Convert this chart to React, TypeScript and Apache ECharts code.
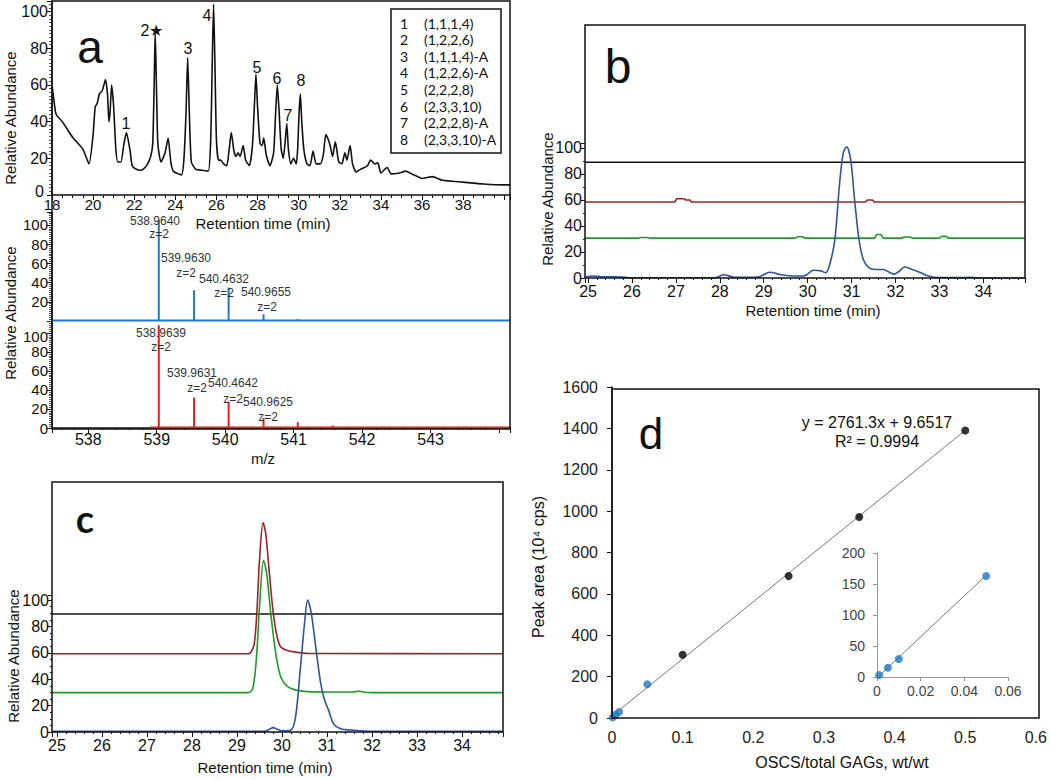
import React, { useEffect, useRef } from "react";
import * as echarts from "echarts";

// ---------- Panel a: chromatogram ----------
const chromTime = [18.0,18.1,18.2,18.5,19.0,19.5,19.8,20.0,20.1,20.2,20.3,20.45,20.6,20.7,20.77,20.83,20.9,21.0,21.1,21.2,21.35,21.5,21.62,21.8,21.9,22.1,22.35,22.6,22.8,22.9,22.97,23.02,23.08,23.15,23.3,23.5,23.65,23.78,23.9,24.3,24.42,24.52,24.6,24.68,24.78,25.0,25.3,25.6,25.72,25.8,25.86,25.92,26.0,26.1,26.2,26.35,26.5,26.62,26.72,26.85,26.95,27.05,27.15,27.3,27.42,27.6,27.75,27.85,27.92,28.0,28.12,28.22,28.3,28.42,28.6,28.78,28.88,28.96,29.05,29.15,29.25,29.35,29.42,29.5,29.62,29.75,29.88,29.95,30.02,30.08,30.15,30.25,30.4,30.55,30.7,30.85,31.05,31.2,31.32,31.45,31.55,31.65,31.78,31.85,31.95,32.1,32.25,32.35,32.5,32.62,32.8,33.0,33.2,33.35,33.5,33.7,33.85,34.0,34.3,34.5,34.9,35.2,35.5,35.8,36.0,36.5,37.0,38.0,39.0,40.0,40.3];
const chromAbund = [60,51,44,40,31.5,25,17,33,48,50,55,57,63,55,40,46,60,48,26,18,18,28,34,24,16,14,13.5,16,21,28,60,89,60,28,18,23,31,18,13,11,20,45,75,45,18,14,13.5,13,30,75,104,75,30,19,19,17,16,25,34,24,21,23,21,27,19,16,27,50,66,48,28,27,31,22,16,23,45,60,45,25,20,30,39,25,17,20,17,25,45,55,40,25,17,16,24,17,17,22,33,30,26,21,29,25,18,17,23,19,27,17,12.5,14,15,16,19,17,17.5,12,15,11.5,12,13,11.5,10,9,10,8,7,6,5.5,5.5];
const chromTicks = [18,20,22,24,26,28,30,32,34,36,38];
const peakNames = ["1","2★","3","4","5","6","7","8"];
const legendIds = ["1","2","3","4","5","6","7","8"];
const legendComps = ["(1,1,1,4)","(1,2,2,6)","(1,1,1,4)-A","(1,2,2,6)-A","(2,2,2,8)","(2,3,3,10)","(2,2,2,8)-A","(2,3,3,10)-A"];

// ---------- Panel a: mass spectra ----------
const specBlueMz = [539.03,539.545,540.05,540.56,541.06,542.68];
const specBlueInt = [105,32,35,7,2,1];
const specRedMz = [539.03,539.545,540.05,540.56,541.06,541.57];
const specRedInt = [108,32,28,10.5,6,2.5];
const blueLabels = ["538.9640","539.9630","540.4632","540.9655"];
const redLabels = ["538.9639","539.9631","540.4642","540.9625"];

// ---------- Panel b ----------
const bBlueT = [24.93,25.1,25.3,25.6,25.9,27.0,27.9,28.09,28.3,28.6,28.9,29.14,29.4,29.7,29.9,30.0,30.13,30.3,30.41,30.5,30.62,30.72,30.81,30.89,30.98,31.07,31.17,31.27,31.4,31.55,31.72,31.88,31.98,32.08,32.21,32.35,32.55,32.75,33.0,33.5,33.7,34.0,34.95];
const bBlueY = [0.8,1.5,1,1,0.3,0.2,0.3,2.5,0.8,0.5,1,4.4,2.5,1.5,1.5,3,6,5.5,4,10,29.5,70,96,101,91,60,29.5,14,7.7,6.5,6.5,4,3,5,8.5,7,4.5,1.5,0.3,0.3,0.5,0,0];
const bRedT = [24.93,26.98,27.02,27.18,27.22,27.32,27.35,31.32,31.36,31.48,31.52,34.95];
const bRedY = [58.5,58.5,61,61,60,60,58.5,58.5,60,60,58.5,58.5];
const bGreenT = [24.93,26.15,26.2,26.35,26.4,29.72,29.77,29.88,29.93,31.53,31.57,31.67,31.72,32.15,32.2,32.33,32.38,33.0,33.05,33.16,33.2,34.95];
const bGreenY = [30.7,30.7,31.2,31.2,30.7,30.7,31.7,31.7,30.7,30.7,33.5,33.5,30.7,30.7,31.5,31.5,30.7,30.7,32,32,30.7,30.7];
const bBlackT = [24.93,34.95];
const bBlackY = [89,89];

// ---------- Panel c ----------
const cRedT = [24.89,29.25,29.3,29.38,29.44,29.5,29.58,29.64,29.72,29.8,29.88,29.96,30.1,30.3,30.6,34.91];
const cRedY = [59.3,59.3,60,66,90,130,158.6,150,120,92,74,65,62,60.5,59.5,59.3];
const cGreenT = [24.89,29.25,29.35,29.43,29.5,29.59,29.66,29.75,29.85,29.95,30.05,30.2,30.45,31.0,31.6,31.7,31.8,32.0,34.91];
const cGreenY = [29.8,29.8,33,55,95,130,120,90,62,44,37,33,31,30.3,30.3,31,30.3,29.8,29.8];
const cBlueT = [24.89,29.6,29.72,29.8,29.9,30.0,30.19,30.3,30.41,30.5,30.57,30.65,30.74,30.85,30.93,31.04,31.15,31.3,31.6,32.0,34.91];
const cBlueY = [0.5,0.5,2,3.3,2,1,1.3,11,49,82,100,90,67,39,26,16,6,2.5,1.3,0.5,0.5];
const cBlackT = [24.89,34.91];
const cBlackY = [89.4,89.4];

// ---------- Panel d ----------
const calX = [0.1,0.25,0.35,0.5];
const calY = [306,686,972,1390];
const lowX = [0.001,0.005,0.01,0.05];
const lowY = [3,15,29,163];
const trendX = [0,0.5];
const trendY = [9.65,1390.3];
const insetTrendX = [0.001,0.05];
const insetTrendY = [2,164];
const equationText = "y = 2761.3x + 9.6517";
const r2Text = "R² = 0.9994";

const FONT = '"Liberation Sans", Arial, sans-serif';
const INK = "#111";
const NAVY = "#2f5597";
const DARKRED = "#a0202a";
const GREEN = "#1f9a2a";
const SPEC_BLUE = "#1f78c8";
const SPEC_RED = "#ee1c1c";
const DOT_BLUE = "#1f77c4";

const zip = (a: number[], b: number[]) => a.map((v, i) => [v, b[i]]);

function sticks(mz: number[], it: number[], start: number, end: number, base: number) {
  const out: number[][] = [[start, base]];
  mz.forEach((m, i) => {
    out.push([m, base], [m, it[i]], [m, base]);
  });
  out.push([end, base]);
  return out;
}

const isMult = (v: number, step: number) => Math.abs(v / step - Math.round(v / step)) < 1e-6;

function valAxis(grid: number, min: number, max: number, o: any = {}) {
  return {
    type: "value",
    gridIndex: grid,
    min,
    max,
    axisLine: { show: true, onZero: false, lineStyle: { color: INK, width: 1.5 } },
    axisTick: { show: true, length: 5, lineStyle: { color: INK, width: 1 } },
    axisLabel: { fontSize: 16, color: INK, fontFamily: FONT, margin: 3 },
    splitLine: { show: false },
    ...o,
  };
}

function text(t: string, x: number, y: number, fs: number, o: any = {}) {
  return {
    type: "text",
    x,
    y,
    z: 60,
    rotation: o.rotation || 0,
    style: {
      text: t,
      fontSize: fs,
      fontFamily: o.fontFamily || FONT,
      fontWeight: o.fontWeight || "normal",
      fill: o.fill || INK,
      align: o.align || "center",
      verticalAlign: "middle",
    },
  };
}

function frame(x: number, y: number, w: number, h: number, o: any = {}) {
  return {
    type: "rect",
    z: o.z || 40,
    shape: { x, y, width: w, height: h },
    style: { fill: o.fill || "none", stroke: INK, lineWidth: 1.5 },
  };
}

function buildOption() {
  const yLab100 = (v: number) => (isMult(v, 20) && v <= 100.01 ? String(Math.round(v)) : "");
  const intLab = (limit: number) => (v: number) => (isMult(v, 1) && v < limit ? String(Math.round(v)) : "");
  // special rich styles to nudge the crowded "0"/"100" labels apart
  const chromYLab = (v: number) => (Math.abs(v) < 1e-6 ? "{z|0}" : yLab100(v));
  const blueYLab = (v: number) => (Math.abs(v) < 1e-6 ? "{z|0}" : yLab100(v));
  const redYLab = (v: number) => (Math.abs(v - 100) < 1e-6 ? "{h|100}" : yLab100(v));

  const grid = [
    { left: 52, top: 1, width: 458, height: 194 }, // 0 chromatogram
    { left: 52, top: 212, width: 458, height: 109 }, // 1 blue spectrum
    { left: 52, top: 321, width: 458, height: 107 }, // 2 red spectrum
    { left: 585, top: 25, width: 440, height: 253 }, // 3 b data
    { left: 585, top: 143, width: 440, height: 135 }, // 4 b axis
    { left: 52, top: 482, width: 451, height: 250 }, // 5 c data
    { left: 52, top: 595, width: 451, height: 137 }, // 6 c axis
    { left: 612, top: 387, width: 425, height: 331 }, // 7 d
    { left: 877, top: 553, width: 131, height: 124 }, // 8 inset
  ];

  const hidden = (g: number, min: number, max: number) => ({
    type: "value", gridIndex: g, min, max, show: false, splitLine: { show: false },
  });

  const xAxis = [
    valAxis(0, 18, 40.28, {
      interval: 2,
      minorTick: { show: true, splitNumber: 4, length: 3, lineStyle: { color: INK } },
      axisLabel: { fontSize: 15, color: INK, fontFamily: FONT, margin: 2, formatter: (v: number) => (chromTicks.includes(v) ? String(v) : "") },
    }),
    hidden(1, 537.47, 544.16),
    valAxis(2, 537.47, 544.16, {
      splitNumber: 6,
      axisLabel: { fontSize: 16, color: INK, fontFamily: FONT, margin: 3, formatter: intLab(543.5) },
      minorTick: { show: true, splitNumber: 5, length: 2, lineStyle: { color: INK } },
    }),
    valAxis(3, 24.93, 34.95, {
      splitNumber: 10,
      axisLine: { show: false },
      axisLabel: { fontSize: 16, color: INK, fontFamily: FONT, margin: 5, formatter: intLab(34.5) },
      minorTick: { show: true, splitNumber: 5, length: 2, lineStyle: { color: INK } },
    }),
    hidden(4, 24.93, 34.95),
    valAxis(5, 24.89, 34.91, {
      splitNumber: 10,
      axisLine: { show: false },
      axisLabel: { fontSize: 16, color: INK, fontFamily: FONT, margin: 5, formatter: intLab(34.5) },
      minorTick: { show: true, splitNumber: 5, length: 2, lineStyle: { color: INK } },
    }),
    hidden(6, 24.89, 34.91),
    valAxis(7, 0, 0.6, {
      interval: 0.1,
      axisLine: { show: false },
      axisTick: { show: false },
      axisLabel: { fontSize: 16, color: "#222", fontFamily: FONT, margin: 11, formatter: (v: number) => String(Math.round(v * 10) / 10) },
    }),
    valAxis(8, 0, 0.06, {
      interval: 0.02,
      axisLine: { show: true, lineStyle: { color: "#999", width: 1 } },
      axisTick: { show: true, length: 4, lineStyle: { color: "#999" } },
      axisLabel: { fontSize: 14, color: "#444", fontFamily: FONT, margin: 7, formatter: (v: number) => String(Math.round(v * 100) / 100) },
    }),
  ];

  const yAxis = [
    valAxis(0, 0, 105.8, {
      interval: 20,
      minorTick: { show: true, splitNumber: 10, length: 3, lineStyle: { color: "#555" } },
      axisLabel: {
        fontSize: 16, color: INK, fontFamily: FONT, margin: 4, formatter: chromYLab,
        rich: { z: { fontSize: 16, color: INK, fontFamily: FONT, padding: [0, 4, 8, 0] } },
      },
    }),
    valAxis(1, 0, 113.5, {
      interval: 20,
      minorTick: { show: true, splitNumber: 10, length: 3, lineStyle: { color: "#555" } },
      axisLabel: {
        fontSize: 15, color: INK, fontFamily: FONT, margin: 4, formatter: blueYLab,
        rich: { z: { fontSize: 15, color: INK, fontFamily: FONT, padding: [0, 0, 10, 0] } },
      },
    }),
    valAxis(2, 0, 112.6, {
      interval: 20,
      minorTick: { show: true, splitNumber: 10, length: 3, lineStyle: { color: "#555" } },
      axisLabel: {
        fontSize: 15, color: INK, fontFamily: FONT, margin: 4, formatter: redYLab,
        rich: { h: { fontSize: 15, color: INK, fontFamily: FONT, padding: [8, 0, 0, 0] } },
      },
    }),
    hidden(3, 0, 194.6),
    valAxis(4, 0, 103.8, {
      interval: 20,
      axisLine: { show: false },
      axisTick: { show: true, length: 4, lineStyle: { color: INK } },
      minorTick: { show: true, splitNumber: 2, length: 2, lineStyle: { color: INK } },
      axisLabel: { fontSize: 16, color: INK, fontFamily: FONT, margin: 3, formatter: yLab100 },
    }),
    hidden(5, 0, 189.4),
    valAxis(6, 0, 103.8, {
      interval: 20,
      axisLine: { show: false },
      axisTick: { show: true, length: 4, lineStyle: { color: INK } },
      minorTick: { show: true, splitNumber: 4, length: 2, lineStyle: { color: INK } },
      axisLabel: { fontSize: 16, color: INK, fontFamily: FONT, margin: 3, formatter: yLab100 },
    }),
    valAxis(7, 0, 1600, {
      interval: 200,
      axisLine: { show: true, lineStyle: { color: INK, width: 1.5 } },
      axisTick: { show: true, length: 5, lineStyle: { color: INK } },
      axisLabel: { fontSize: 16, color: "#222", fontFamily: FONT, margin: 14, formatter: (v: number) => String(Math.round(v)) },
    }),
    valAxis(8, 0, 200, {
      interval: 50,
      axisLine: { show: true, lineStyle: { color: "#999", width: 1 } },
      axisTick: { show: true, length: 4, lineStyle: { color: "#999" } },
      axisLabel: { fontSize: 14, color: "#444", fontFamily: FONT, margin: 12, formatter: (v: number) => String(Math.round(v)) },
    }),
  ];

  const line = (xi: number, data: number[][], color: string, width: number, smooth: number | boolean = false, z = 3) => ({
    type: "line",
    xAxisIndex: xi,
    yAxisIndex: xi,
    data,
    symbol: "none",
    smooth,
    z,
    clip: false,
    lineStyle: { color, width },
    silent: true,
  });

  const series: any[] = [
    line(0, zip(chromTime, chromAbund), INK, 1.6, 0.2),
    line(1, sticks(specBlueMz, specBlueInt, 537.47, 544.16, 0.6), SPEC_BLUE, 2),
    line(2, sticks(specRedMz, specRedInt, 538.9, 544.16, 0.6), SPEC_RED, 2),
    line(3, zip(bBlackT, bBlackY), INK, 1.6),
    line(3, zip(bRedT, bRedY), DARKRED, 1.6),
    line(3, zip(bGreenT, bGreenY), GREEN, 1.6),
    line(3, zip(bBlueT, bBlueY), NAVY, 1.6, 0.3),
    line(5, zip(cBlackT, cBlackY), INK, 1.6),
    line(5, zip(cRedT, cRedY), DARKRED, 1.6, 0.3),
    line(5, zip(cGreenT, cGreenY), GREEN, 1.6, 0.3),
    line(5, zip(cBlueT, cBlueY), NAVY, 1.6, 0.3),
    line(7, zip(trendX, trendY), "#777", 1),
    {
      type: "scatter", xAxisIndex: 7, yAxisIndex: 7, data: zip(calX, calY), symbolSize: 8,
      itemStyle: { color: "#000" }, z: 5,
    },
    {
      type: "scatter", xAxisIndex: 7, yAxisIndex: 7, data: zip(lowX, lowY), symbolSize: 8,
      itemStyle: { color: DOT_BLUE }, z: 5,
    },
    line(8, zip(insetTrendX, insetTrendY), "#777", 1),
    {
      type: "scatter", xAxisIndex: 8, yAxisIndex: 8, data: zip(lowX, lowY), symbolSize: 8,
      itemStyle: { color: DOT_BLUE }, z: 5,
    },
  ];

  const peakPos = [[126, 123], [152, 30], [188, 48], [207, 15], [257, 67], [277, 78], [288, 115], [301, 80]];
  const bluePos = [[155, 221], [186, 258], [224, 279], [266, 292]];
  const blueZ = [[159, 234], [186, 273], [224, 293], [267, 307]];
  const redPos = [[161, 333], [192, 373], [233, 383], [268, 402]];
  const redZ = [[161, 347], [197, 388], [233, 399], [268, 417]];

  const graphic: any[] = [
    frame(52, 1, 458, 428),
    frame(585, 25, 440, 253),
    frame(52, 482, 451, 250),
    frame(612, 389, 427, 329),
    frame(391, 9, 110, 144, { fill: "#fff", z: 50 }),
    text("a", 90, 47, 46),
    text("b", 618, 66, 48),
    text("c", 85, 518, 38, { fontFamily: "Lato, sans-serif", fontWeight: "bold" }),
    text("d", 651, 433, 44),
    text("Relative Abundance", 10, 118, 15, { rotation: Math.PI / 2 }),
    text("Relative Abundance", 10, 313, 15, { rotation: Math.PI / 2 }),
    text("Retention time (min)", 263, 223, 15),
    text("m/z", 263, 458, 15),
    text("Relative Abundance", 547, 199, 15, { rotation: Math.PI / 2 }),
    text("Retention time (min)", 813, 310, 15),
    text("Relative Abundance", 13, 656, 15, { rotation: Math.PI / 2 }),
    text("Retention time (min)", 265, 767, 15),
    text("Peak area (10⁴ cps)", 538, 567, 16, { rotation: Math.PI / 2 }),
    text("OSCS/total GAGs, wt/wt", 842, 762, 16),
    text(equationText, 877, 422, 16),
    text(r2Text, 877, 441, 16),
  ];
  peakNames.forEach((p, i) => graphic.push(text(p, peakPos[i][0], peakPos[i][1], 16)));
  legendIds.forEach((id, i) => {
    const y = 23 + i * 16.6;
    graphic.push(text(id, 400, y, 14, { align: "left", fontFamily: "Lato, sans-serif" }));
    graphic.push(text(legendComps[i], 424, y, 14, { align: "left", fontFamily: "Lato, sans-serif" }));
  });
  blueLabels.forEach((l, i) => {
    graphic.push(text(l, bluePos[i][0], bluePos[i][1], 12, { fill: "#333" }));
    graphic.push(text("z=2", blueZ[i][0], blueZ[i][1], 12, { fill: "#333" }));
  });
  redLabels.forEach((l, i) => {
    graphic.push(text(l, redPos[i][0], redPos[i][1], 12, { fill: "#333" }));
    graphic.push(text("z=2", redZ[i][0], redZ[i][1], 12, { fill: "#333" }));
  });

  return {
    animation: false,
    backgroundColor: "#fff",
    textStyle: { fontFamily: FONT },
    grid,
    xAxis,
    yAxis,
    series,
    graphic,
  };
}

export default function App() {
  const ref = useRef<HTMLDivElement>(null);
  useEffect(() => {
    const chart = echarts.init(ref.current!, undefined, { renderer: "svg", width: 1050, height: 780 });
    chart.setOption(buildOption() as any);
    return () => chart.dispose();
  }, []);
  return (
    <div
      ref={ref}
      style={{ position: "fixed", left: 0, top: 0, width: 1050, height: 780, background: "#fff" }}
    />
  );
}
